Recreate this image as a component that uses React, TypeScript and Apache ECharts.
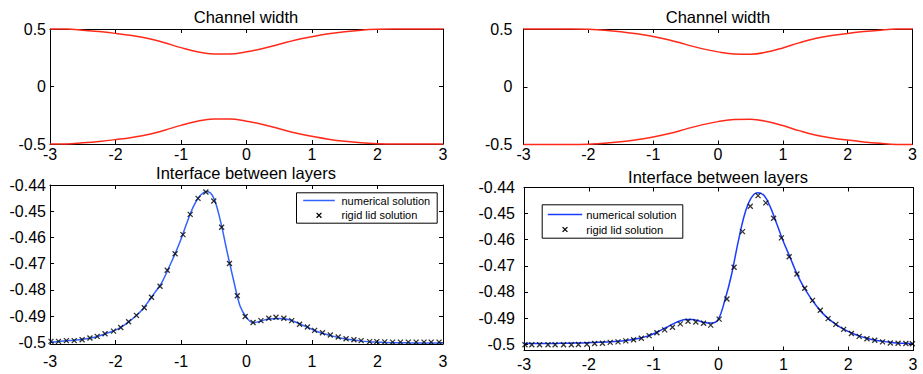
import React, { useEffect, useRef } from "react";
import * as echarts from "echarts";

// ---------- data ----------
const xTicks = [-3, -2, -1, 0, 1, 2, 3];
const wallYTicks = [-0.5, 0, 0.5];
const interfaceYTicks = [-0.5, -0.49, -0.48, -0.47, -0.46, -0.45, -0.44];

const wallX = [-3, -2.75, -2.5, -2.25, -2, -1.75, -1.5, -1.25, -1, -0.75, -0.5, -0.25, 0, 0.25, 0.5, 0.75, 1, 1.25, 1.5, 1.75, 2, 2.25, 2.5, 2.75, 3];
const leftUpperWall = [0.5, 0.499, 0.49, 0.478, 0.462, 0.443, 0.418, 0.38, 0.338, 0.302, 0.283, 0.282, 0.302, 0.33, 0.367, 0.405, 0.433, 0.458, 0.477, 0.49, 0.497, 0.5, 0.5, 0.5, 0.5];
const leftLowerWall = [-0.5, -0.499, -0.49, -0.478, -0.462, -0.443, -0.418, -0.38, -0.338, -0.302, -0.283, -0.282, -0.302, -0.33, -0.367, -0.405, -0.433, -0.458, -0.477, -0.49, -0.497, -0.5, -0.5, -0.5, -0.5];
const rightUpperWall = [0.5, 0.5, 0.5, 0.5, 0.497, 0.49, 0.477, 0.458, 0.435, 0.405, 0.367, 0.33, 0.302, 0.284, 0.282, 0.3, 0.336, 0.38, 0.418, 0.443, 0.462, 0.478, 0.49, 0.499, 0.5];
const rightLowerWall = [-0.5, -0.5, -0.5, -0.5, -0.497, -0.49, -0.477, -0.458, -0.435, -0.405, -0.367, -0.33, -0.302, -0.284, -0.282, -0.3, -0.336, -0.38, -0.418, -0.443, -0.462, -0.478, -0.49, -0.499, -0.5];

const lineX = [-3, -2.9, -2.8, -2.7, -2.6, -2.5, -2.4, -2.3, -2.2, -2.1, -2, -1.9, -1.8, -1.7, -1.6, -1.5, -1.4, -1.3, -1.2, -1.1, -1, -0.9, -0.8, -0.7, -0.6, -0.5, -0.4, -0.3, -0.2, -0.1, 0, 0.1, 0.2, 0.3, 0.4, 0.5, 0.6, 0.7, 0.8, 0.9, 1, 1.1, 1.2, 1.3, 1.4, 1.5, 1.6, 1.7, 1.8, 1.9, 2, 2.1, 2.2, 2.3, 2.4, 2.5, 2.6, 2.7, 2.8, 2.9, 3];
const leftNumerical = [-0.4998, -0.4997, -0.4995, -0.4993, -0.4991, -0.4988, -0.4984, -0.4979, -0.4971, -0.4962, -0.4953, -0.494, -0.4922, -0.4901, -0.4877, -0.4845, -0.481, -0.4775, -0.4723, -0.4668, -0.4607, -0.4537, -0.4477, -0.4438, -0.4425, -0.445, -0.4535, -0.465, -0.476, -0.486, -0.4905, -0.4925, -0.492, -0.4913, -0.491, -0.4909, -0.4911, -0.4917, -0.4928, -0.4939, -0.495, -0.496, -0.4968, -0.4975, -0.4981, -0.4986, -0.499, -0.4993, -0.4996, -0.4998, -0.4999, -0.5, -0.5001, -0.5001, -0.5001, -0.5002, -0.5002, -0.5002, -0.5002, -0.5002, -0.5002];
const rightNumerical = [-0.4997, -0.4997, -0.4997, -0.4997, -0.4997, -0.4997, -0.4996, -0.4996, -0.4995, -0.4995, -0.4994, -0.4993, -0.4992, -0.4991, -0.499, -0.4988, -0.4985, -0.4981, -0.4976, -0.4969, -0.496, -0.4948, -0.4935, -0.4922, -0.4911, -0.4905, -0.4905, -0.4911, -0.4918, -0.4919, -0.4903, -0.483, -0.4735, -0.4612, -0.4505, -0.4442, -0.442, -0.443, -0.4475, -0.454, -0.4607, -0.4665, -0.4725, -0.4775, -0.4815, -0.485, -0.488, -0.4903, -0.4922, -0.4938, -0.4951, -0.4962, -0.4971, -0.4978, -0.4984, -0.4988, -0.4991, -0.4994, -0.4996, -0.4997, -0.4998];

const leftRigidX = [-2.985, -2.87, -2.75, -2.63, -2.51, -2.39, -2.28, -2.16, -2.03, -1.92, -1.8, -1.68, -1.56, -1.45, -1.32, -1.21, -1.09, -0.97, -0.86, -0.74, -0.62, -0.5, -0.38, -0.26, -0.14, -0.02, 0.1, 0.22, 0.34, 0.45, 0.57, 0.69, 0.81, 0.93, 1.04, 1.16, 1.28, 1.4, 1.52, 1.64, 1.75, 1.88, 1.99, 2.11, 2.23, 2.35, 2.47, 2.59, 2.71, 2.82, 2.94];
const leftRigid = [-0.4996, -0.4996, -0.4993, -0.4993, -0.499, -0.4983, -0.4977, -0.4967, -0.4957, -0.4943, -0.4921, -0.4897, -0.4868, -0.4828, -0.4786, -0.4725, -0.4662, -0.4589, -0.4512, -0.4451, -0.4427, -0.4461, -0.4561, -0.4699, -0.4822, -0.4901, -0.4924, -0.4917, -0.4908, -0.4904, -0.4908, -0.4917, -0.4931, -0.4941, -0.4954, -0.4963, -0.4972, -0.4979, -0.4986, -0.499, -0.4993, -0.4997, -0.4997, -0.4998, -0.4999, -0.4999, -0.4999, -0.4999, -0.4999, -0.4999, -0.4999];
const rightRigidX = [-2.985, -2.88, -2.76, -2.63, -2.52, -2.39, -2.27, -2.16, -2.03, -1.91, -1.79, -1.67, -1.55, -1.43, -1.31, -1.19, -1.07, -0.95, -0.83, -0.71, -0.59, -0.47, -0.35, -0.23, -0.12, 0.01, 0.13, 0.24, 0.37, 0.49, 0.61, 0.73, 0.85, 0.97, 1.09, 1.21, 1.33, 1.45, 1.57, 1.69, 1.81, 1.93, 2.05, 2.17, 2.29, 2.41, 2.53, 2.65, 2.77, 2.89, 2.99];
const rightRigid = [-0.5002, -0.5002, -0.5002, -0.5002, -0.5002, -0.5002, -0.5002, -0.5001, -0.5, -0.4997, -0.4996, -0.4993, -0.4991, -0.4987, -0.4983, -0.4977, -0.4967, -0.4956, -0.4945, -0.4935, -0.4922, -0.4912, -0.4915, -0.492, -0.4927, -0.4904, -0.4827, -0.4705, -0.4569, -0.4472, -0.4431, -0.4459, -0.4518, -0.4593, -0.4665, -0.4731, -0.4786, -0.4832, -0.487, -0.4902, -0.4924, -0.4943, -0.4959, -0.497, -0.4979, -0.4985, -0.4991, -0.4995, -0.4996, -0.4997, -0.4998];

const titles = ["Channel width", "Channel width", "Interface between layers", "Interface between layers"];
const legendNames = ["numerical solution", "rigid lid solution"];

// ---------- styling ----------
const FONT = "'Liberation Sans', Arial, Helvetica, sans-serif";
const RED = "#ff2a1a";
const BLUE_L = "#3363ff";
const BLUE_R = "#1a3cff";
const XMARK = "path://M0,0L10,10M10,0L0,10";

const zip = (xs: number[], ys: number[]) => xs.map((x, i) => [x, ys[i]]);
const fmt = (v: number) => String(parseFloat(Number(v).toFixed(2)));

const grids = [
  { left: 50, top: 29, width: 393, height: 115 },
  { left: 523.5, top: 29, width: 389, height: 115.5 },
  { left: 50, top: 185, width: 393, height: 159 },
  { left: 524, top: 187.5, width: 389, height: 163 },
];
const xLabelMargin = [2, 2, 9, 6];
const yLabelMargin = [4, 11, 4, 9];
const yRanges: [number, number][] = [[-0.5, 0.5], [-0.5, 0.5], [-0.5006, -0.44], [-0.5024, -0.44]];
const yTickSets = [wallYTicks, wallYTicks, interfaceYTicks, interfaceYTicks];

// legend box geometry (layout only)
const legendBoxes = [
  { x: 296, y: 192.3, w: 140.7, h: 30.4, lineX0: 6.7, lineX1: 38.3, textX: 45, row1: 7.7, row2: 22.5, fontSize: 11, blue: BLUE_L },
  { x: 541.7, y: 204.3, w: 140.6, h: 33.4, lineX0: 5.6, lineX1: 40, textX: 44, row1: 9.7, row2: 24.7, fontSize: 11.2, blue: BLUE_R },
];

function buildLegend(b: typeof legendBoxes[number]) {
  const mx = (b.lineX0 + b.lineX1) / 2;
  const s = 2.4;
  return {
    type: "group",
    left: b.x,
    top: b.y,
    z: 100,
    children: [
      { type: "rect", shape: { x: 0, y: 0, width: b.w, height: b.h }, style: { fill: "#fff", stroke: "#000", lineWidth: 1 } },
      { type: "line", shape: { x1: b.lineX0, y1: b.row1, x2: b.lineX1, y2: b.row1 }, style: { stroke: b.blue, lineWidth: 1.5 } },
      { type: "line", shape: { x1: mx - s, y1: b.row2 - s, x2: mx + s, y2: b.row2 + s }, style: { stroke: "#000", lineWidth: 1.3 } },
      { type: "line", shape: { x1: mx - s, y1: b.row2 + s, x2: mx + s, y2: b.row2 - s }, style: { stroke: "#000", lineWidth: 1.3 } },
      { type: "text", x: b.textX, y: b.row1, style: { text: legendNames[0], fill: "#000", fontSize: b.fontSize, fontFamily: FONT, verticalAlign: "middle", align: "left" } },
      { type: "text", x: b.textX, y: b.row2, style: { text: legendNames[1], fill: "#000", fontSize: b.fontSize, fontFamily: FONT, verticalAlign: "middle", align: "left" } },
    ],
  };
}

function buildOption() {
  const xAxis: any[] = [];
  const yAxis: any[] = [];
  grids.forEach((_, g) => {
    const common = {
      gridIndex: g,
      type: "value",
      min: -3,
      max: 3,
      splitLine: { show: false },
      axisLine: { show: true, onZero: false, lineStyle: { color: "#000", width: 1 } },
      axisTick: { show: true, inside: true, length: 4, customValues: xTicks, lineStyle: { color: "#000" } },
    };
    xAxis.push({
      ...common,
      position: "bottom",
      axisLabel: { show: true, customValues: xTicks, margin: xLabelMargin[g], color: "#000", fontSize: 16, fontFamily: FONT, formatter: fmt },
    });
    xAxis.push({ ...common, position: "top", axisLabel: { show: false } });
    const [ymin, ymax] = yRanges[g];
    const ycommon = {
      gridIndex: g,
      type: "value",
      min: ymin,
      max: ymax,
      splitLine: { show: false },
      axisLine: { show: true, onZero: false, lineStyle: { color: "#000", width: 1 } },
      axisTick: { show: true, inside: true, length: 4, customValues: yTickSets[g], lineStyle: { color: "#000" } },
    };
    yAxis.push({
      ...ycommon,
      position: "left",
      axisLabel: { show: true, customValues: yTickSets[g], margin: yLabelMargin[g], color: "#000", fontSize: 16, fontFamily: FONT, formatter: fmt },
    });
    yAxis.push({ ...ycommon, position: "right", axisLabel: { show: false } });
  });

  const wallLine = (g: number, ys: number[], name: string) => ({
    type: "line",
    name,
    xAxisIndex: g * 2,
    yAxisIndex: g * 2,
    data: zip(wallX, ys),
    symbol: "none",
    smooth: 0.4,
    clip: false,
    lineStyle: { color: RED, width: 1.5 },
    z: 5,
  });

  const series: any[] = [
    wallLine(0, leftUpperWall, "left upper wall"),
    wallLine(0, leftLowerWall, "left lower wall"),
    wallLine(1, rightUpperWall, "right upper wall"),
    wallLine(1, rightLowerWall, "right lower wall"),
    {
      type: "line",
      name: legendNames[0],
      xAxisIndex: 4,
      yAxisIndex: 4,
      data: zip(lineX, leftNumerical),
      symbol: "none",
      smooth: 0.35,
      clip: false,
      lineStyle: { color: BLUE_L, width: 1.5 },
      z: 4,
    },
    {
      type: "scatter",
      name: legendNames[1],
      xAxisIndex: 4,
      yAxisIndex: 4,
      data: zip(leftRigidX, leftRigid),
      symbol: XMARK,
      symbolSize: 5,
      itemStyle: { color: "rgba(0,0,0,0)", borderColor: "#000", borderWidth: 1.3 },
      z: 6,
    },
    {
      type: "line",
      name: legendNames[0],
      xAxisIndex: 6,
      yAxisIndex: 6,
      data: zip(lineX, rightNumerical),
      symbol: "none",
      smooth: 0.35,
      clip: false,
      lineStyle: { color: BLUE_R, width: 1.5 },
      z: 4,
    },
    {
      type: "scatter",
      name: legendNames[1],
      xAxisIndex: 6,
      yAxisIndex: 6,
      data: zip(rightRigidX, rightRigid),
      symbol: XMARK,
      symbolSize: 5,
      itemStyle: { color: "rgba(0,0,0,0)", borderColor: "#000", borderWidth: 1.3 },
      z: 6,
    },
  ];

  const titleCenters = [
    { x: 246, y: 8 },
    { x: 718, y: 8 },
    { x: 246, y: 164.5 },
    { x: 718, y: 168 },
  ];
  const title = titles.map((t, i) => ({
    text: t,
    left: titleCenters[i].x,
    top: titleCenters[i].y,
    textAlign: "center",
    padding: 0,
    textStyle: { fontSize: 16.5, fontWeight: "normal", color: "#000", fontFamily: FONT },
  }));

  return {
    animation: false,
    backgroundColor: "#fff",
    title,
    grid: grids.map((g) => ({ ...g, containLabel: false })),
    xAxis,
    yAxis,
    series,
    graphic: legendBoxes.map(buildLegend),
  };
}

export default function App() {
  const ref = useRef<HTMLDivElement>(null);
  useEffect(() => {
    if (!ref.current) return;
    const chart = echarts.init(ref.current, undefined, { renderer: "svg" });
    chart.setOption(buildOption() as any);
    return () => chart.dispose();
  }, []);
  return <div ref={ref} style={{ position: "fixed", left: 0, top: 0, width: 923, height: 374, background: "#fff" }} />;
}
